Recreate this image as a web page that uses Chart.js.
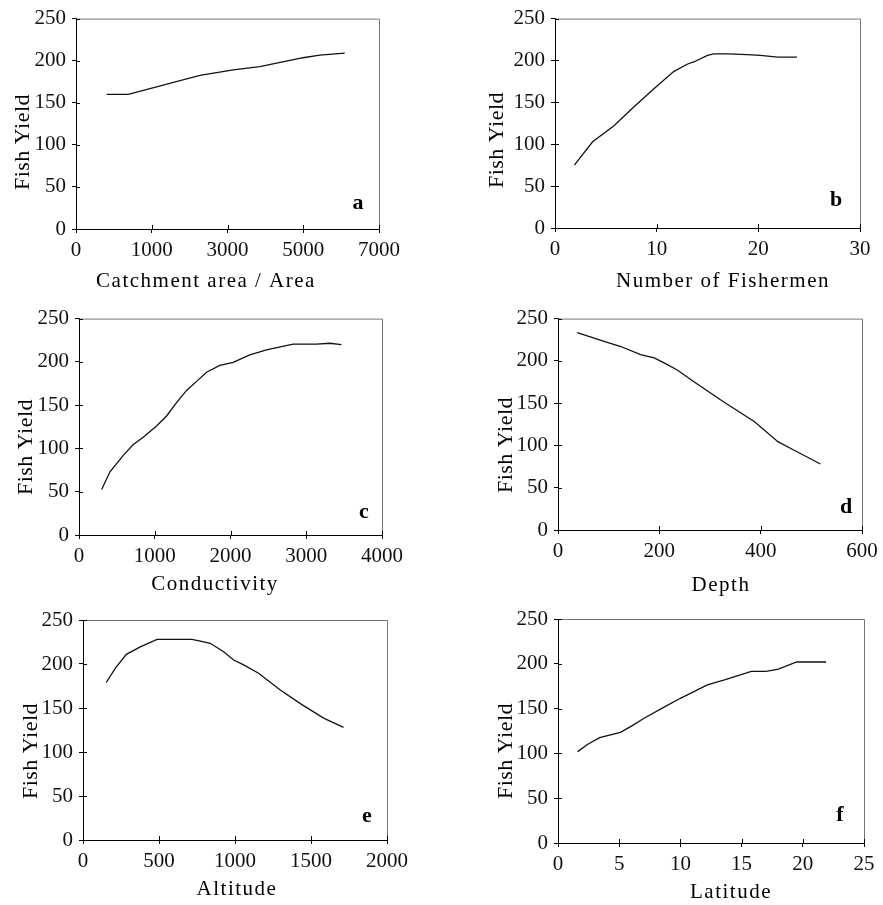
<!DOCTYPE html>
<html>
<head>
<meta charset="utf-8">
<script src="https://cdn.jsdelivr.net/npm/chart.js@4.4.1/dist/chart.umd.min.js"></script>
<style>
  html, body { margin: 0; padding: 0; background: #fff; }
  body { width: 883px; height: 905px; position: relative; overflow: hidden; }
  canvas { position: absolute; }
</style>
</head>
<body>
<canvas id="panelA"></canvas>
<canvas id="panelB"></canvas>
<canvas id="panelC"></canvas>
<canvas id="panelD"></canvas>
<canvas id="panelE"></canvas>
<canvas id="panelF"></canvas>
<script>
// values
const yieldTicks = ['0', '50', '100', '150', '200', '250'];

const catchmentX = [708, 1208, 2862, 3631, 4246, 5246, 5631, 6208];
const catchmentYield = [160, 160, 182.5, 189, 193, 203.5, 206.5, 209];
const catchmentTicks = ['0', '1000', '3000', '5000', '7000'];

const fishermenX = [1.9, 3.7, 5.8, 7.8, 9.7, 11.7, 13.0, 13.7, 15.0, 15.6, 17.0, 18.9, 20.2, 21.9, 23.8];
const fishermenYield = [75, 103, 122, 145, 166, 187, 195.5, 198.5, 206, 208, 208, 207, 206, 204, 204];
const fishermenTicks = ['0', '10', '20', '30'];

const conductivityX = [299, 409, 585, 716, 848, 1024, 1156, 1288, 1420, 1552, 1684, 1859, 2035, 2255, 2475, 2826, 3134, 3310, 3464];
const conductivityYield = [52.5, 73, 92, 104.5, 113, 126, 137.5, 153, 167, 177.5, 188, 196, 199.5, 208, 214, 220.5, 220.5, 221.5, 220];
const conductivityTicks = ['0', '1000', '2000', '3000', '4000'];

const depthX = [38, 91, 124, 163, 190, 216, 236, 269, 328, 388, 434, 467, 518];
const depthYield = [233.5, 223, 217, 207.5, 203.5, 195.5, 189, 175, 151, 128, 104.5, 94, 78];
const depthTicks = ['0', '200', '400', '600'];

const altitudeX = [153, 212, 285, 377, 487, 717, 772, 837, 925, 991, 1057, 1155, 1298, 1430, 1583, 1714];
const altitudeYield = [179, 195, 211, 219.5, 228, 228, 226, 223.5, 214, 204.5, 199, 189.5, 170.5, 155, 138.5, 128];
const altitudeTicks = ['0', '500', '1000', '1500', '2000'];

const latitudeX = [1.6, 2.4, 3.4, 5.1, 6.0, 7.0, 8.7, 10.0, 12.2, 13.6, 15.8, 17.0, 18.0, 19.5, 21.9];
const latitudeYield = [102, 110, 117.5, 123.5, 130.5, 139, 152, 161.5, 176.5, 182, 191.5, 191.5, 194, 202, 202];
const latitudeTicks = ['0', '5', '10', '15', '20', '25'];

const FONT = '"Liberation Serif", "DejaVu Serif", serif';

// inward tick marks, grey top/right frame, axis titles and panel letter
const panelDecor = {
  id: 'panelDecor',
  afterDraw(chart, args, opts) {
    const ctx = chart.ctx;
    const area = chart.chartArea;
    const sx = chart.scales.x, sy = chart.scales.y;
    ctx.save();
    ctx.strokeStyle = '#777';
    ctx.lineWidth = 1;
    ctx.beginPath();
    ctx.moveTo(area.left, area.top + 0.5);
    ctx.lineTo(area.right + 0.5, area.top + 0.5);
    ctx.lineTo(area.right + 0.5, area.bottom);
    ctx.stroke();

    ctx.strokeStyle = '#000';
    ctx.beginPath();
    sx.ticks.forEach(t => {
      const px = Math.round(sx.getPixelForValue(t.value)) + 0.5;
      ctx.moveTo(px, area.bottom);
      ctx.lineTo(px, area.bottom - 4);
    });
    sy.ticks.forEach(t => {
      const py = Math.round(sy.getPixelForValue(t.value)) + 0.5;
      ctx.moveTo(area.left, py);
      ctx.lineTo(area.left + 4, py);
    });
    ctx.stroke();

    ctx.fillStyle = '#000';
    ctx.textAlign = 'center';
    ctx.textBaseline = 'middle';
    ctx.letterSpacing = '1.5px';
    ctx.font = '21px ' + FONT;
    ctx.fillText(opts.xTitle, opts.xTitlePos[0], opts.xTitlePos[1]);

    ctx.letterSpacing = '0.5px';
    ctx.font = '22px ' + FONT;
    ctx.save();
    ctx.translate(opts.yTitlePos[0], opts.yTitlePos[1]);
    ctx.rotate(-Math.PI / 2);
    ctx.fillText('Fish Yield', 0, 0);
    ctx.restore();

    ctx.letterSpacing = '0px';
    ctx.font = 'bold 22px ' + FONT;
    ctx.fillText(opts.letter, opts.letterPos[0], opts.letterPos[1]);
    ctx.restore();
  }
};

function makePanel(id, box, area, xs, ys, xMax, xStep, xLabels, xTitle, xTitlePos, yTitlePos, letter, letterPos) {
  const canvas = document.getElementById(id);
  canvas.width = box.w;
  canvas.height = box.h;
  canvas.style.left = box.x + 'px';
  canvas.style.top = box.y + 'px';

  const rel = p => [p[0] - box.x, p[1] - box.y];

  new Chart(canvas, {
    type: 'line',
    data: {
      datasets: [{
        data: xs.map((x, i) => ({ x: x, y: ys[i] })),
        borderColor: '#111',
        borderWidth: 1.3,
        pointRadius: 0,
        tension: 0,
        fill: false
      }]
    },
    options: {
      responsive: false,
      animation: false,
      events: [],
      layout: {
        padding: {
          left: 0,
          top: area.t - box.y,
          right: box.x + box.w - area.r,
          bottom: 0
        }
      },
      plugins: {
        legend: { display: false },
        tooltip: { enabled: false },
        panelDecor: {
          xTitle: xTitle,
          xTitlePos: rel(xTitlePos),
          yTitlePos: rel(yTitlePos),
          letter: letter,
          letterPos: rel(letterPos)
        }
      },
      scales: {
        x: {
          type: 'linear',
          min: 0,
          max: xMax,
          afterFit: s => { s.height = box.y + box.h - area.b; },
          afterBuildTicks: s => {
            s.ticks = xLabels.map((l, i) => ({ value: i * xStep }));
          },
          border: { color: '#000', width: 1 },
          grid: { drawOnChartArea: false, drawTicks: true, tickLength: 4, color: '#000' },
          ticks: {
            color: '#111',
            padding: 5,
            maxRotation: 0,
            autoSkip: false,
            font: { family: FONT, size: 21 },
            callback: (v, i) => xLabels[i]
          }
        },
        y: {
          type: 'linear',
          min: 0,
          max: 250,
          afterFit: s => { s.width = area.l - box.x; },
          afterBuildTicks: s => {
            s.ticks = yieldTicks.map(l => ({ value: Number(l) }));
          },
          border: { color: '#000', width: 1 },
          grid: { drawOnChartArea: false, drawTicks: true, tickLength: 4, color: '#000' },
          ticks: {
            color: '#111',
            padding: 6,
            font: { family: FONT, size: 21 },
            callback: (v, i) => yieldTicks[i]
          }
        }
      }
    },
    plugins: [panelDecor]
  });
}

window.addEventListener('DOMContentLoaded', () => {
  makePanel('panelA', { x: 0, y: 0, w: 441, h: 300 }, { l: 76, t: 13, r: 379, b: 229 },
    catchmentX, catchmentYield, 7000, 1750, catchmentTicks,
    'Catchment area / Area', [206, 281], [23, 142], 'a', [358, 203]);

  makePanel('panelB', { x: 441, y: 0, w: 442, h: 300 }, { l: 555, t: 12, r: 860, b: 228 },
    fishermenX, fishermenYield, 30, 10, fishermenTicks,
    'Number of Fishermen', [723, 281], [497, 140], 'b', [836, 200]);

  makePanel('panelC', { x: 0, y: 300, w: 441, h: 300 }, { l: 79, t: 317, r: 382, b: 535 },
    conductivityX, conductivityYield, 4000, 1000, conductivityTicks,
    'Conductivity', [215, 584], [26, 447], 'c', [364, 512]);

  makePanel('panelD', { x: 441, y: 300, w: 442, h: 300 }, { l: 558, t: 315, r: 862, b: 530 },
    depthX, depthYield, 600, 200, depthTicks,
    'Depth', [721, 585], [506, 445], 'd', [846, 507]);

  makePanel('panelE', { x: 0, y: 600, w: 441, h: 305 }, { l: 83, t: 620, r: 387, b: 840 },
    altitudeX, altitudeYield, 2000, 500, altitudeTicks,
    'Altitude', [237, 889], [31, 751], 'e', [367, 816]);

  makePanel('panelF', { x: 441, y: 600, w: 442, h: 305 }, { l: 558, t: 619, r: 864, b: 843 },
    latitudeX, latitudeYield, 25, 5, latitudeTicks,
    'Latitude', [731, 892], [506, 751], 'f', [840, 815]);
});
</script>
</body>
</html>
